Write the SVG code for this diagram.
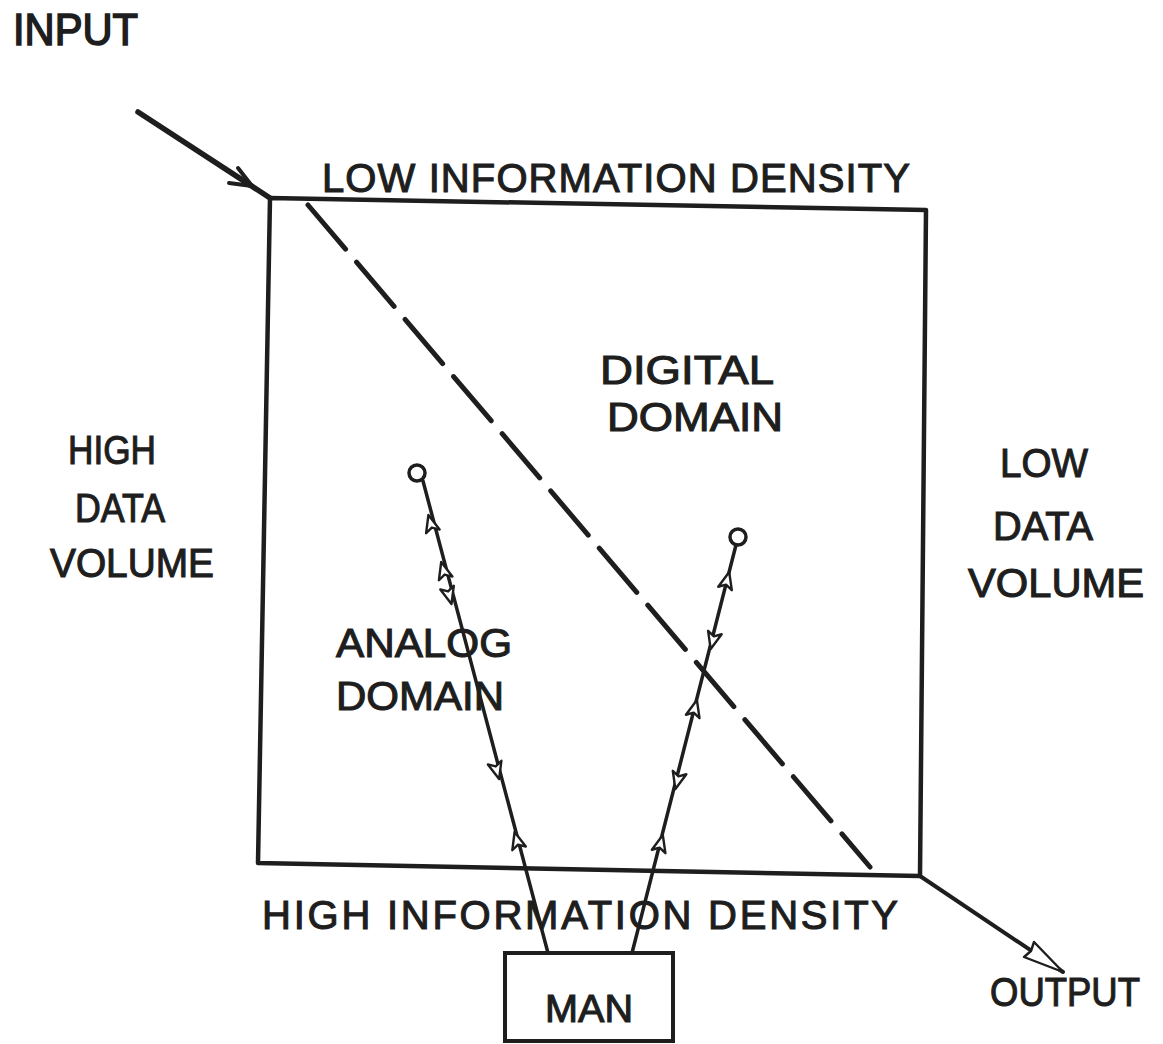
<svg xmlns="http://www.w3.org/2000/svg" width="1163" height="1044" viewBox="0 0 1163 1044">
<style>
  .t{font-family:"Liberation Sans",Arial,sans-serif;fill:#1e1e1e;font-size:40px;stroke:#1e1e1e;stroke-width:1.1}
  .ln{stroke:#1e1e1e;fill:none;stroke-linecap:round;stroke-linejoin:round}
  .ah{stroke:#1e1e1e;stroke-width:2.4;fill:#fff;stroke-linejoin:round}
</style>
<defs>
  <path id="mark" d="M0,0 L-7,17 L0,13 L7,17 Z"/>
</defs>
<rect width="1163" height="1044" fill="#fff"/>

<g id="labels">
  <text class="t" x="13" y="45" textLength="125" lengthAdjust="spacingAndGlyphs" style="font-size:44px;stroke-width:1.6">INPUT</text>
  <text class="t" x="322" y="192" textLength="588" lengthAdjust="spacing">LOW INFORMATION DENSITY</text>
  <text class="t" x="600" y="384" textLength="174" lengthAdjust="spacingAndGlyphs">DIGITAL</text>
  <text class="t" x="607" y="431" textLength="176" lengthAdjust="spacingAndGlyphs">DOMAIN</text>
  <text class="t" x="68" y="464" textLength="88" lengthAdjust="spacingAndGlyphs">HIGH</text>
  <text class="t" x="75" y="522" textLength="90" lengthAdjust="spacingAndGlyphs">DATA</text>
  <text class="t" x="50" y="577" textLength="164" lengthAdjust="spacingAndGlyphs">VOLUME</text>
  <text class="t" x="1000" y="477" textLength="88" lengthAdjust="spacingAndGlyphs">LOW</text>
  <text class="t" x="993" y="540" textLength="100" lengthAdjust="spacingAndGlyphs">DATA</text>
  <text class="t" x="968" y="597" textLength="176" lengthAdjust="spacingAndGlyphs">VOLUME</text>
  <text class="t" x="336" y="657" textLength="176" lengthAdjust="spacingAndGlyphs">ANALOG</text>
  <text class="t" x="336" y="710" textLength="168" lengthAdjust="spacingAndGlyphs">DOMAIN</text>
  <text class="t" x="262" y="929" textLength="636" lengthAdjust="spacing">HIGH INFORMATION DENSITY</text>
  <text class="t" x="990" y="1006" textLength="150" lengthAdjust="spacingAndGlyphs" style="font-size:41px">OUTPUT</text>
</g>

<g id="domain-box">
  <path class="ln" d="M270,198 L926,210 L920,876 L258,863 Z" stroke-width="4.5"/>
</g>

<g id="man">
  <rect x="505" y="953" width="168" height="88" fill="#fff" stroke="#1e1e1e" stroke-width="4"/>
  <text class="t" x="589" y="1022" text-anchor="middle" textLength="88" lengthAdjust="spacingAndGlyphs" style="font-size:38px">MAN</text>
</g>

<g id="analog-point">
  <circle cx="417" cy="473" r="8" fill="#fff" stroke="#1e1e1e" stroke-width="3.5"/>
</g>
<g id="digital-point">
  <circle cx="738" cy="537" r="8" fill="#fff" stroke="#1e1e1e" stroke-width="3.5"/>
</g>

<g id="connectors">
  <!-- input -->
  <path class="ln" d="M138,112 L270,198" stroke-width="5.5"/>
  <path class="ln" d="M238,168 L252,186 L229,183" stroke-width="4"/>
  <!-- output -->
  <path class="ln" d="M920,876 L1063,972" stroke-width="4"/>
  <path class="ah" d="M1063,972 L1024,957 L1031,951 L1034,942 Z"/>
  <!-- domain divider -->
  <path class="ln" d="M308,205 L870,867" stroke-width="5" stroke-dasharray="58 17"/>
  <!-- man to analog -->
  <path class="ln" d="M548,953 L423,481" stroke-width="3.5"/>
  <!-- man to digital -->
  <path class="ln" d="M632,953 L736,545" stroke-width="3.5"/>
  <g class="ah">
    <use href="#mark" transform="translate(428.4,515) rotate(-15.2)"/>
    <use href="#mark" transform="translate(441.2,562) rotate(-15.2)"/>
    <use href="#mark" transform="translate(451.5,604) rotate(164.8)"/>
    <use href="#mark" transform="translate(499.1,779) rotate(164.8)"/>
    <use href="#mark" transform="translate(514.6,832) rotate(-15.2)"/>
    <use href="#mark" transform="translate(729.2,572) rotate(14.2)"/>
    <use href="#mark" transform="translate(710.7,649) rotate(194.2)"/>
    <use href="#mark" transform="translate(696.9,700) rotate(14.2)"/>
    <use href="#mark" transform="translate(675.4,789) rotate(194.2)"/>
    <use href="#mark" transform="translate(662.8,835) rotate(14.2)"/>
  </g>
</g>
</svg>
